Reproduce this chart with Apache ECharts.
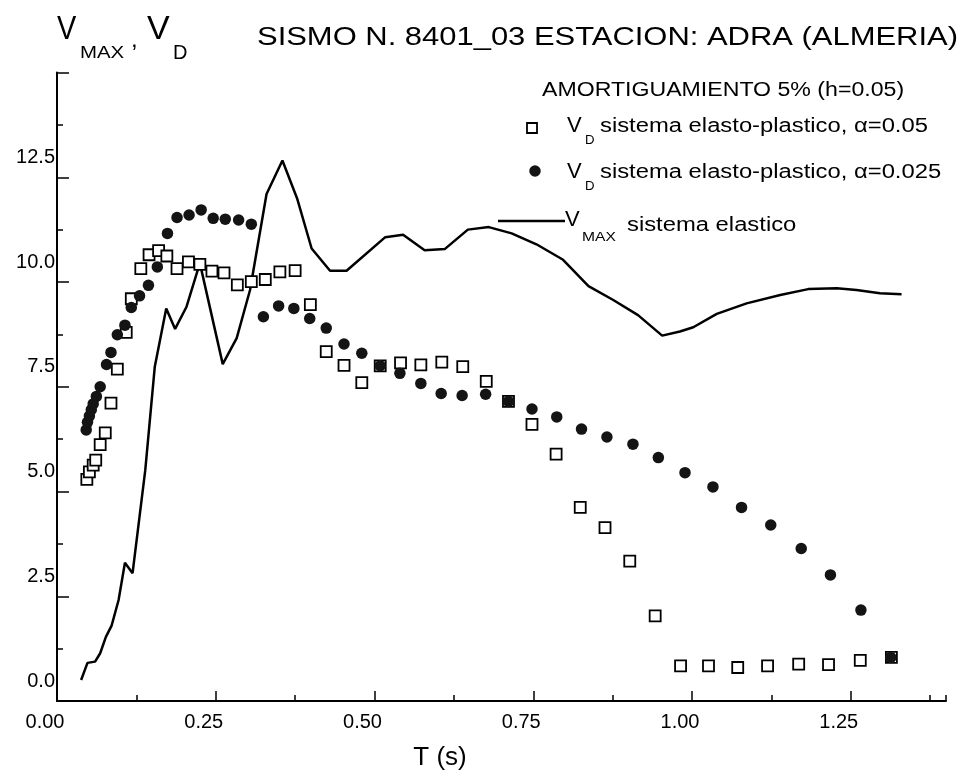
<!DOCTYPE html>
<html>
<head>
<meta charset="utf-8">
<script src="https://cdn.jsdelivr.net/npm/echarts@6/dist/echarts.min.js"></script>
<style>
  html, body { margin: 0; padding: 0; background: #fff; }
  #chart { width: 970px; height: 776px; }
</style>
</head>
<body>
<div id="chart"></div>
<script>
// Periods T (s) and spectral values, one pair of arrays per series
const tElastoA05 = [0.047, 0.051, 0.057, 0.061, 0.068, 0.076, 0.085, 0.095, 0.109, 0.117,
  0.132, 0.145, 0.160, 0.173, 0.189, 0.207, 0.225, 0.244, 0.263, 0.284,
  0.306, 0.328, 0.351, 0.375, 0.399, 0.424, 0.452, 0.480, 0.509, 0.541,
  0.573, 0.606, 0.639, 0.676, 0.711, 0.748, 0.786, 0.824, 0.863, 0.902,
  0.942, 0.982, 1.026, 1.072, 1.119, 1.168, 1.215, 1.265, 1.314];
const vElastoA05 = [5.29, 5.47, 5.63, 5.75, 6.12, 6.40, 7.11, 7.92, 8.80, 9.60,
  10.32, 10.65, 10.75, 10.62, 10.32, 10.48, 10.42, 10.26, 10.22, 9.93,
  10.01, 10.06, 10.24, 10.27, 9.46, 8.34, 8.01, 7.60, 8.00, 8.07,
  8.02, 8.09, 7.98, 7.63, 7.15, 6.60, 5.89, 4.62, 4.14, 3.34,
  2.03, 0.84, 0.84, 0.80, 0.84, 0.88, 0.87, 0.97, 1.04];

const tElastoA025 = [0.046, 0.048, 0.051, 0.054, 0.057, 0.062, 0.068, 0.078, 0.085, 0.095,
  0.107, 0.117, 0.130, 0.144, 0.158, 0.174, 0.189, 0.208, 0.227, 0.246,
  0.265, 0.286, 0.306, 0.325, 0.349, 0.373, 0.398, 0.424, 0.452, 0.480,
  0.509, 0.540, 0.573, 0.605, 0.638, 0.675, 0.711, 0.748, 0.787, 0.826,
  0.866, 0.907, 0.947, 0.989, 1.033, 1.078, 1.124, 1.172, 1.218, 1.266, 1.313];
const vElastoA025 = [6.47, 6.65, 6.80, 6.95, 7.09, 7.27, 7.50, 8.03, 8.32, 8.74,
  8.97, 9.39, 9.67, 9.92, 10.36, 11.16, 11.54, 11.60, 11.72, 11.52,
  11.50, 11.48, 11.38, 9.17, 9.43, 9.37, 9.13, 8.90, 8.52, 8.30,
  8.00, 7.82, 7.58, 7.34, 7.29, 7.32, 7.15, 6.97, 6.78, 6.49,
  6.30, 6.13, 5.81, 5.45, 5.11, 4.62, 4.20, 3.64, 3.01, 2.17, 1.04];

const tElastic = [0.038, 0.048, 0.060, 0.068, 0.077, 0.086, 0.097, 0.107, 0.119, 0.139,
  0.154, 0.172, 0.186, 0.204, 0.225, 0.261, 0.283, 0.304, 0.330, 0.355,
  0.378, 0.401, 0.430, 0.456, 0.517, 0.545, 0.579, 0.611, 0.647, 0.680,
  0.716, 0.755, 0.797, 0.837, 0.876, 0.915, 0.953, 0.981, 1.002, 1.039,
  1.086, 1.139, 1.183, 1.228, 1.259, 1.296, 1.330];
const vElastic = [0.50, 0.91, 0.94, 1.14, 1.53, 1.80, 2.41, 3.30, 3.05, 5.51,
  7.98, 9.37, 8.88, 9.41, 10.45, 8.04, 8.66, 9.81, 12.10, 12.90,
  12.00, 10.80, 10.27, 10.27, 11.07, 11.13, 10.76, 10.79, 11.25, 11.31,
  11.16, 10.90, 10.53, 9.90, 9.57, 9.21, 8.72, 8.82, 8.92, 9.24,
  9.49, 9.69, 9.83, 9.85, 9.81, 9.73, 9.71];

// Axis tick values
const xTicks = [0, 0.25, 0.5, 0.75, 1.0, 1.25];
const yTicks = [0, 2.5, 5, 7.5, 10, 12.5];

const zip = (xs, ys) => xs.map((x, i) => [x, ys[i]]);

const FONT = "'Liberation Sans', Arial, Helvetica, sans-serif";
const black = '#000';

function txt(x, y, text, size, scaleX, align) {
  return {
    type: 'text', x: x, y: y, scaleX: scaleX || 1, silent: true,
    style: {
      text: text, fill: black, align: align || 'left', verticalAlign: 'middle',
      font: size + 'px ' + FONT
    }
  };
}

const chart = echarts.init(document.getElementById('chart'), null, { renderer: 'canvas' });

const option = {
  backgroundColor: '#fff',
  animation: false,
  grid: { left: 57, right: 24, top: 72.5, bottom: 75 },
  xAxis: [
    {
      type: 'value', min: 0, max: 1.4, interval: 0.25,
      axisLine: { show: true, lineStyle: { color: black, width: 2 } },
      axisTick: { show: true, inside: true, length: 10, lineStyle: { color: black, width: 1.5 } },
      splitLine: { show: false },
      axisLabel: {
        show: true, margin: 11, color: black, fontSize: 20, fontFamily: FONT,
        padding: [0, 24, 0, 0], showMaxLabel: false,
        formatter: v => (xTicks.indexOf(+v.toFixed(2)) >= 0 ? v.toFixed(2) : '')
      }
    },
    {
      // finer tick marks between the labelled periods
      type: 'value', min: 0, max: 1.4, interval: 0.125, position: 'bottom',
      axisLine: { show: false },
      axisTick: { show: true, inside: true, length: 6, lineStyle: { color: black, width: 1.5 } },
      axisLabel: { show: false },
      splitLine: { show: false }
    }
  ],
  yAxis: {
    type: 'value', min: 0, max: 15, interval: 2.5,
    axisLine: { show: true, lineStyle: { color: black, width: 2 } },
    axisTick: { show: true, inside: true, length: 12, lineStyle: { color: black, width: 1.5 } },
    minorTick: { show: true, splitNumber: 2, length: 6, lineStyle: { color: black, width: 1.5 } },
    splitLine: { show: false },
    axisLabel: {
      show: true, margin: 2, color: black, fontSize: 20, fontFamily: FONT,
      verticalAlign: 'bottom', lineHeight: 40,
      formatter: v => (yTicks.indexOf(v) >= 0 ? v.toFixed(1) : '')
    }
  },
  series: [
    {
      name: 'VD alfa=0.05', type: 'scatter', xAxisIndex: 0,
      data: zip(tElastoA05, vElastoA05),
      symbol: 'rect', symbolSize: 11,
      itemStyle: { color: '#fff', borderColor: black, borderWidth: 1.8, opacity: 1 },
      z: 3
    },
    {
      name: 'VD alfa=0.025', type: 'scatter', xAxisIndex: 0,
      data: zip(tElastoA025, vElastoA025),
      symbol: 'circle', symbolSize: 11.5,
      itemStyle: { color: '#141414', opacity: 1 },
      z: 4
    },
    {
      name: 'VMAX elastico', type: 'line', xAxisIndex: 0,
      data: zip(tElastic, vElastic),
      showSymbol: false, symbol: 'none', smooth: false,
      lineStyle: { color: black, width: 2.5 },
      z: 2
    }
  ],
  graphic: [
    // vertical axis name: V_MAX, V_D
    txt(57, 30, 'V', 34, 0.85),
    txt(80, 53, 'MAX', 17, 1.2),
    txt(131, 40, ',', 24, 1),
    txt(147, 30, 'V', 34, 1.0),
    txt(173, 53, 'D', 20, 1),
    // title
    txt(257, 37.5, 'SISMO N. 8401_03 ESTACION: ADRA (ALMERIA)', 26, 1.19),
    // legend
    txt(542, 90.5, 'AMORTIGUAMIENTO 5% (h=0.05)', 20, 1.156),
    {
      type: 'rect', silent: true,
      shape: { x: 527, y: 123, width: 10, height: 10 },
      style: { fill: '#fff', stroke: black, lineWidth: 1.8 }
    },
    txt(567, 126, 'V', 22, 1.0),
    txt(585, 141, 'D', 12, 1.1),
    txt(600, 126, 'sistema elasto-plastico, \u03b1=0.05', 20, 1.19),
    {
      type: 'circle', silent: true,
      shape: { cx: 535, cy: 171, r: 5.75 },
      style: { fill: '#141414' }
    },
    txt(567, 172, 'V', 22, 1.0),
    txt(585, 187, 'D', 12, 1.1),
    txt(600, 172, 'sistema elasto-plastico, \u03b1=0.025', 20, 1.19),
    {
      type: 'line', silent: true,
      shape: { x1: 498, y1: 221, x2: 565, y2: 221 },
      style: { stroke: black, lineWidth: 2.5 }
    },
    txt(565, 220, 'V', 22, 1.0),
    txt(582, 237, 'MAX', 13, 1.2),
    txt(627, 225, 'sistema elastico', 20, 1.19),
    // horizontal axis name
    txt(440, 758, 'T (s)', 26, 1.0, 'center')
  ]
};

chart.setOption(option);
</script>
</body>
</html>
